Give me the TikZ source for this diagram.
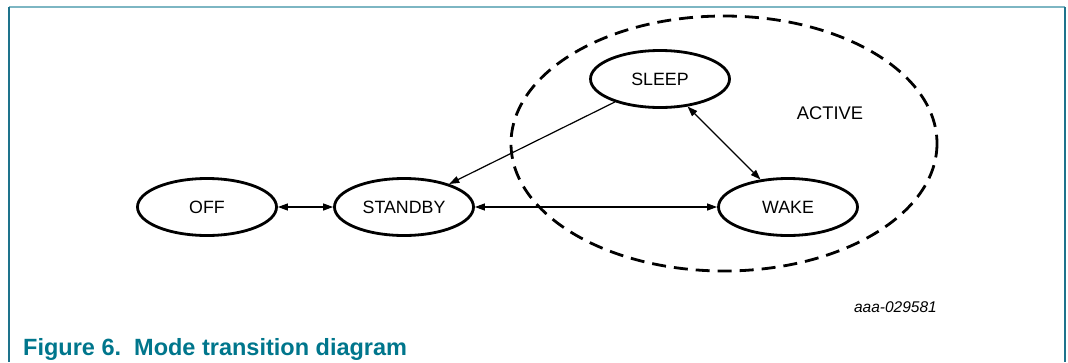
\documentclass[tikz,border=0pt]{standalone}
\usepackage{fontspec}
\setmainfont{Liberation Sans}
\usetikzlibrary{shapes.geometric,arrows.meta}
\definecolor{capteal}{RGB}{0,118,140}
\definecolor{frameteal}{RGB}{30,115,140}
\definecolor{topteal}{RGB}{125,182,195}
\tikzset{
  state/.style={ellipse,draw=black,line width=2.8pt,minimum width=139pt,minimum height=57pt,inner sep=0pt,font=\fontsize{17.8}{21}\selectfont},
  conn/.style={line width=1.2pt,draw=black},
  tip/.style={-{Triangle[length=10pt,width=7pt]}},
  tips/.style={{Triangle[length=10pt,width=7pt]}-{Triangle[length=10pt,width=7pt]}},
}
\begin{document}
\begin{tikzpicture}[x=1pt,y=-1pt]
\useasboundingbox (0,0) rectangle (1068,362);
% frame
\draw[topteal,line width=2pt] (9,7) -- (1065,7);
\draw[frameteal,line width=2pt] (9,7) -- (9,362);
\draw[frameteal,line width=2pt] (1065,7) -- (1065,362);
% active region
\draw[line width=2.8pt,dash pattern=on 14pt off 8pt] (724,143.5) ellipse [x radius=213, y radius=127.5];
\node[font=\fontsize{18.3}{21}\selectfont] (active) at (830,113) {ACTIVE};
% states
\node[state] (off) at (207,207) {OFF};
\node[state] (standby) at (404,207) {STANDBY};
\node[state] (sleep) at (660,79) {SLEEP};
\node[state] (wake) at (788,207) {WAKE};
% connectors
\draw[conn,tips] (off.east) -- (standby.west);
\draw[conn,tips] (standby.east) -- (wake.west);
\draw[conn,tip] (sleep.207) -- (standby.27);
\draw[conn,tips] (sleep.-45) -- (wake.135);
% labels
\node[anchor=base east,inner sep=0pt,font=\fontsize{15.5}{18}\selectfont\itshape] (code) at (937,312) {aaa-029581};
\node[anchor=base west,inner sep=0pt,text=capteal,font=\fontsize{23.5}{28}\selectfont\bfseries] (cap) at (23,355) {Figure 6.\ \ Mode transition diagram};
\end{tikzpicture}
\end{document}
